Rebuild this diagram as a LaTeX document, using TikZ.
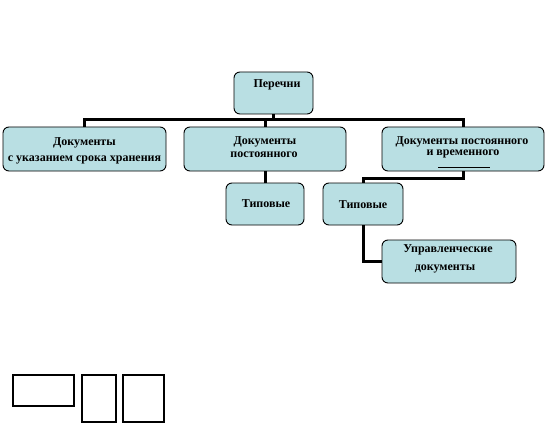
\documentclass[tikz,border=0pt]{standalone}
\usepackage{fontspec}
\setmainfont{Liberation Serif}
\definecolor{boxfill}{RGB}{185,223,227}
\begin{document}
\begin{tikzpicture}[x=1pt,y=-1pt,
  box/.style={draw=black, line width=0.9pt, fill=boxfill, rounded corners=6pt, inner sep=0pt},
  txt/.style={font=\fontsize{12}{14}\selectfont\bfseries, anchor=mid, inner sep=0pt},
  conn/.style={draw=black, line width=3pt},
  plainbox/.style={draw=black, line width=1.2pt}]
\useasboundingbox (0,0) rectangle (547,428);
\fill[white] (0,0) rectangle (547,428);

% boxes
\node[box, minimum width=79pt, minimum height=42pt] (per) at (273.5,93) {};
\node[box, minimum width=163pt, minimum height=44pt] (b1) at (84.5,149) {};
\node[box, minimum width=162pt, minimum height=44pt] (b2) at (265,149) {};
\node[box, minimum width=162pt, minimum height=44pt] (b3) at (463,149) {};
\node[box, minimum width=78pt, minimum height=42pt] (t1) at (265,204) {};
\node[box, minimum width=80pt, minimum height=42pt] (t2) at (363,204) {};
\node[box, minimum width=134pt, minimum height=43pt] (upr) at (449,261.5) {};

% connectors
\coordinate (busy) at (0,120);
\coordinate (j3) at (0,178);
\draw[conn] (per.south) -- (per.south |- busy);
\draw[conn] (b1.north) |- (b3.north |- busy) -- (b3.north);
\draw[conn] (b2.north) -- (b2.north |- busy);
\draw[conn] (b2.south) -- (t1.north);
\draw[conn] (b3.south) -- (b3.south |- j3) -| (t2.north);
\draw[conn] (t2.south) |- (upr.west);

% texts
\node[txt] (tper) at (277,85) {Перечни};
\node[txt] (tb1a) at (84.5,143) {Документы};
\node[txt] (tb1b) at (84.5,159) {с указанием срока хранения};
\node[txt] (tb2a) at (265,142) {Документы};
\node[txt] (tb2b) at (264,155) {постоянного};
\node[txt] (tb3a) at (462,142) {Документы постоянного};
\node[txt] (tb3b) at (463,153) {и временного};
\draw[line width=1pt] (438,167) -- (490,167);
\node[txt] (tt1) at (266,205) {Типовые};
\node[txt] (tt2) at (363,206) {Типовые};
\node[txt] (tua) at (448,250) {Управленческие};
\node[txt] (tub) at (445,268) {документы};

% bottom rectangles
\draw[plainbox] (13,375) rectangle (74,406);
\draw[plainbox] (82,375) rectangle (116,422);
\draw[plainbox] (123,375) rectangle (164,422);
\end{tikzpicture}
\end{document}
